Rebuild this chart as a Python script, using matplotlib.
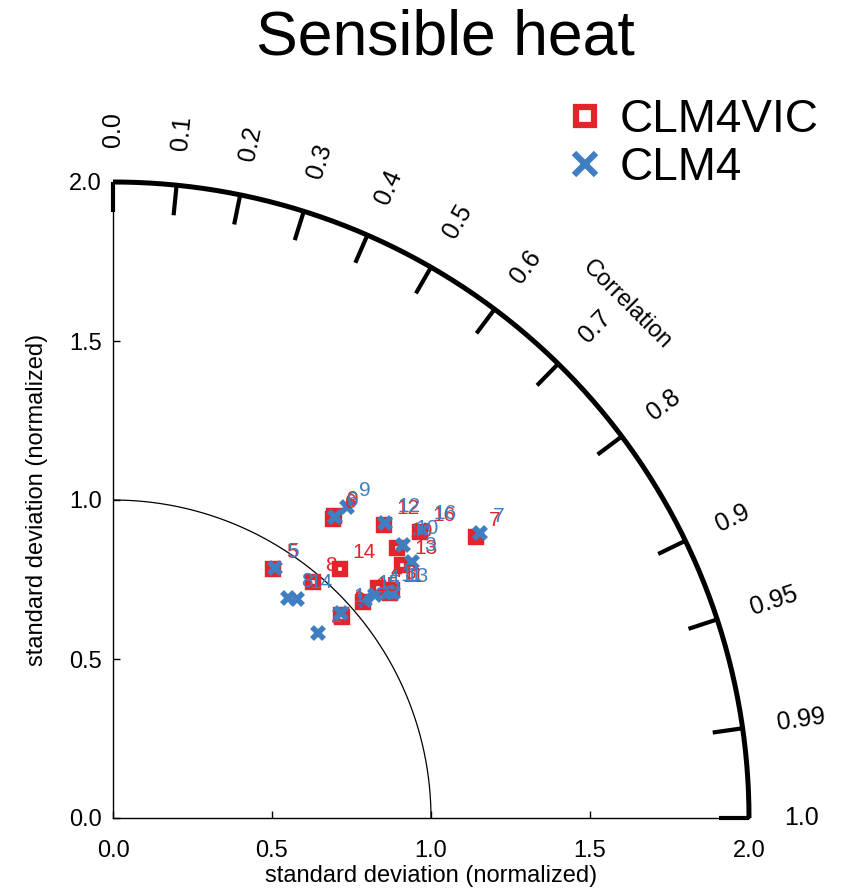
import numpy as np
import matplotlib.pyplot as plt
from matplotlib.lines import Line2D

plt.rcParams['font.family'] = ['Liberation Sans', 'DejaVu Sans']

# Punkte (normierte Standardabweichung, kartesisch) fuer die 16 Stationen
labels = [str(i) for i in range(1, 17)]
vic_x = [0.716, 0.720, 0.877, 0.834, 0.504, 0.691, 1.142, 0.628,
         0.695, 0.892, 0.871, 0.852, 0.908, 0.714, 0.787, 0.965]
vic_y = [0.638, 0.632, 0.717, 0.722, 0.782, 0.940, 0.883, 0.743,
         0.950, 0.848, 0.707, 0.921, 0.796, 0.782, 0.680, 0.900]
clm_x = [0.716, 0.646, 0.939, 0.824, 0.509, 0.698, 1.154, 0.551,
         0.735, 0.913, 0.865, 0.855, 0.881, 0.578, 0.792, 0.968]
clm_y = [0.644, 0.581, 0.806, 0.701, 0.785, 0.947, 0.895, 0.691,
         0.979, 0.858, 0.711, 0.927, 0.707, 0.688, 0.686, 0.906]

corr_ticks = [0.0, 0.1, 0.2, 0.3, 0.4, 0.5, 0.6, 0.7, 0.8, 0.9, 0.95, 0.99, 1.0]
corr_labels = ['0.0', '0.1', '0.2', '0.3', '0.4', '0.5', '0.6', '0.7', '0.8',
               '0.9', '0.95', '0.99', '1.0']
std_ticks = [0.0, 0.5, 1.0, 1.5, 2.0]

red = '#e3242b'
blue = '#3f7fc1'

fig = plt.figure(figsize=(8.48, 8.92), dpi=100)
ax = fig.add_axes([113 / 848, 74 / 892, 636 / 848, 636 / 892])
ax.set_xlim(0, 2)
ax.set_ylim(0, 2)

for side in ['top', 'right']:
    ax.spines[side].set_visible(False)
for side in ['left', 'bottom']:
    ax.spines[side].set_linewidth(1.0)

ax.set_xticks(std_ticks)
ax.set_yticks(std_ticks)
ax.set_xticklabels([f'{t:.1f}' for t in std_ticks])
ax.set_yticklabels([f'{t:.1f}' for t in std_ticks])
ax.tick_params(axis='x', direction='in', length=5, width=1, labelsize=17, pad=16)
ax.tick_params(axis='y', direction='in', length=5, width=1, labelsize=17, pad=8)
ax.set_xlabel('standard deviation (normalized)', fontsize=17, labelpad=2)
ax.set_ylabel('standard deviation (normalized)', fontsize=17, labelpad=15)

# Bogen aussen und Referenzkreis
th = np.linspace(0, np.pi / 2, 300)
ax.plot(2 * np.cos(th), 2 * np.sin(th), color='black', lw=3.6, clip_on=False,
        solid_capstyle='butt')
ax.plot(np.cos(th), np.sin(th), color='black', lw=0.9)

# Korrelations-Ticks
for c, lab in zip(corr_ticks, corr_labels):
    a = np.arccos(c)
    ax.plot([1.905 * np.cos(a), 2.0 * np.cos(a)], [1.905 * np.sin(a), 2.0 * np.sin(a)],
            color='black', lw=3.0, clip_on=False, solid_capstyle='butt')
    ax.text(2.11 * np.cos(a), 2.11 * np.sin(a), lab, rotation=np.degrees(a),
            rotation_mode='anchor', ha='left', va='center', fontsize=18, clip_on=False)

ang = np.radians(45)
ax.text(2.285 * np.cos(ang), 2.285 * np.sin(ang), 'Correlation', rotation=-45,
        rotation_mode='anchor', ha='center', va='center', fontsize=17)

# Datenpunkte
ax.plot(vic_x, vic_y, ls='none', marker='s', ms=7.5, mfc='white', mec=red, mew=4.6,
        clip_on=False)
ax.plot(clm_x, clm_y, ls='none', marker='x', ms=8, mec=blue, mew=4, clip_on=False)
for lab, x, y in zip(labels, vic_x, vic_y):
    ax.annotate(lab, (x, y), xytext=(9, 12), textcoords='offset points', color=red,
                fontsize=15, ha='left', va='center')
for lab, x, y in zip(labels, clm_x, clm_y):
    ax.annotate(lab, (x, y), xytext=(9, 12), textcoords='offset points', color=blue,
                fontsize=15, ha='left', va='center')

fig.text(445 / 848, 1 - 38 / 892, 'Sensible heat', ha='center', va='center', fontsize=45)

handles = [
    Line2D([], [], ls='none', marker='s', ms=13, mfc='white', mec=red, mew=4.5),
    Line2D([], [], ls='none', marker='x', ms=16, mec=blue, mew=4.5),
]
fig.legend(handles, ['CLM4VIC', 'CLM4'], loc='center left',
           bbox_to_anchor=(546 / 848, 1 - 144 / 892), frameon=False, fontsize=33,
           handlelength=0.7, handletextpad=0.4, labelspacing=0.1, borderpad=0)

fig.savefig('out.png', dpi=100)
